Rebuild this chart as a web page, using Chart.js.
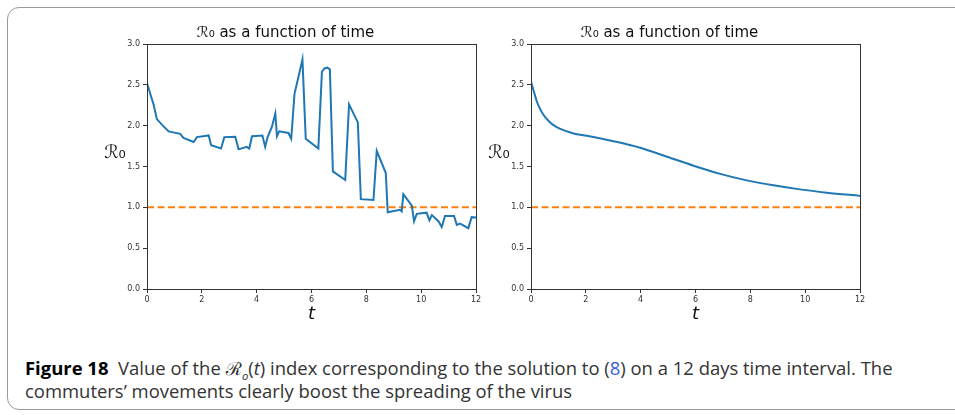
<!DOCTYPE html>
<html lang="en">
<head>
  <meta charset="UTF-8" />
  <title>Figure 18 - R0 as a function of time</title>
  <script src="https://cdn.jsdelivr.net/npm/chart.js"></script>
  <style>
    body { margin: 0; width: 955px; height: 415px; overflow: hidden; background: #fff; }
    #frame {
      position: absolute; left: 7px; top: 7px; width: 990px; height: 403px;
      border: 1.5px solid #9a9a9a; border-radius: 12px; box-sizing: border-box;
    }
    .plot { position: absolute; top: 15px; width: 400px; height: 310px; }
    #caption {
      position: absolute; left: 25px; top: 357px; white-space: nowrap;
      font-family: "Open Sans", "Noto Sans", sans-serif;
      font-size: 18px; line-height: 23px; color: #333;
      transform-origin: 0 0;
    }
    #caption b { color: #000; }
    #caption sub { font-size: 11px; line-height: 0; }
    #caption .ref { color: #3b5bdb; }
  </style>
</head>
<body>
  <div id="frame"></div>
  <div class="plot" style="left:95px"><canvas id="leftChart" width="400" height="310"></canvas></div>
  <div class="plot" style="left:479px"><canvas id="rightChart" width="400" height="310"></canvas></div>
  <div id="caption">
    <div id="capLine1"><b>Figure 18</b>&nbsp; Value of the <i>ℛ<sub>o</sub></i>(<i>t</i>) index corresponding to the solution to (<span class="ref">8</span>) on a 12 days time interval. The</div>
    <div>commuters’ movements clearly boost the spreading of the virus</div>
  </div>

  <script>
    // left panel: with commuters' movements
    const leftT = [0, 0.24, 0.36, 0.55, 0.79, 1.21, 1.33, 1.70, 1.82, 2.25, 2.34, 2.70, 2.82, 3.22, 3.34, 3.64,
      3.73, 3.83, 4.21, 4.31, 4.40, 4.56, 4.68, 4.74, 4.82, 5.16, 5.26, 5.38, 5.67, 5.79, 6.25, 6.38, 6.47,
      6.58, 6.67, 6.78, 7.23, 7.37, 7.69, 7.80, 8.26, 8.38, 8.71, 8.78, 9.23, 9.29, 9.35, 9.66, 9.74, 9.84,
      10.20, 10.30, 10.39, 10.63, 10.75, 10.87, 11.20, 11.30, 11.42, 11.72, 11.84, 12.0];
    const leftR = [2.52, 2.26, 2.08, 2.01, 1.93, 1.90, 1.85, 1.80, 1.86, 1.88, 1.76, 1.72, 1.86, 1.865, 1.71, 1.74,
      1.72, 1.87, 1.88, 1.74, 1.86, 1.99, 2.15, 1.87, 1.93, 1.91, 1.84, 2.39, 2.81, 1.84, 1.72, 2.66, 2.70,
      2.71, 2.69, 1.44, 1.335, 2.26, 2.04, 1.10, 1.09, 1.69, 1.42, 0.94, 0.97, 0.95, 1.16, 1.02, 0.83, 0.92,
      0.935, 0.84, 0.905, 0.83, 0.76, 0.895, 0.895, 0.785, 0.80, 0.745, 0.88, 0.875];

    // right panel: smooth solution
    const rightT = [0, 0.12, 0.22, 0.34, 0.46, 0.58, 0.70, 0.85, 1.07, 1.55, 2.04, 3.01, 3.98, 4.96, 5.93, 6.90, 7.87, 8.84, 9.81, 10.79, 12.0];
    const rightR = [2.54, 2.40, 2.29, 2.20, 2.13, 2.08, 2.04, 2.00, 1.96, 1.905, 1.877, 1.81, 1.73, 1.62, 1.51, 1.41, 1.33, 1.27, 1.22, 1.18, 1.14];

    const thresholdT = [0, 12];
    const thresholdR = [1, 1];

    const xTicks = [0, 2, 4, 6, 8, 10, 12];
    const yTicks = [0, 0.5, 1.0, 1.5, 2.0, 2.5, 3.0];
    const titleText = 'ℛ₀ as a function of time';

    const pts = (xs, ys) => xs.map((x, i) => ({ x, y: ys[i] }));

    // frame + axis labels drawn like matplotlib
    const mplDecor = {
      id: 'mplDecor',
      afterDraw(chart) {
        const { ctx, chartArea: a } = chart;
        ctx.save();
        ctx.strokeStyle = '#333';
        ctx.lineWidth = 1;
        ctx.strokeRect(Math.round(a.left) + 0.5, Math.round(a.top) + 0.5,
          Math.round(a.right - a.left), Math.round(a.bottom - a.top));
        ctx.fillStyle = '#111';
        ctx.textAlign = 'center';
        ctx.textBaseline = 'middle';
        ctx.font = 'italic 18px "DejaVu Sans"';
        ctx.fillText('t', (a.left + a.right) / 2, a.bottom + 25);
        ctx.font = '18px "DejaVu Sans"';
        ctx.fillText('ℛ₀', a.left - 32, (a.top + a.bottom) / 2 - 13);
        ctx.restore();
      }
    };

    function makeChart(id, xs, ys, smooth) {
      const ctx = document.getElementById(id).getContext('2d');
      return new Chart(ctx, {
        type: 'line',
        data: {
          datasets: [
            { data: pts(xs, ys), borderColor: '#1f77b4', borderWidth: 2, pointRadius: 0,
              tension: 0, cubicInterpolationMode: smooth ? 'monotone' : 'default' },
            { data: pts(thresholdT, thresholdR), borderColor: '#ff7f0e', borderWidth: 2,
              borderDash: [7, 3.5], pointRadius: 0 }
          ]
        },
        options: {
          responsive: false,
          animation: false,
          events: [],
          layout: { padding: { left: 0, right: 19, top: 0, bottom: 0 } },
          plugins: {
            legend: { display: false },
            tooltip: { enabled: false },
            title: {
              display: true, text: titleText, color: '#111',
              font: { family: 'DejaVu Sans', size: 15, weight: 'normal', lineHeight: 1.2 },
              padding: { top: 9, bottom: 2 }
            }
          },
          scales: {
            x: {
              type: 'linear', min: 0, max: 12,
              afterBuildTicks: s => { s.ticks = xTicks.map(v => ({ value: v })); },
              afterFit: s => { s.height = 36; },
              grid: { display: true, drawOnChartArea: false, drawTicks: true, tickLength: 4, color: '#333' },
              border: { display: true, color: '#333' },
              ticks: { color: '#333', font: { family: 'DejaVu Sans', size: 8 }, padding: 2, maxRotation: 0,
                callback: v => String(v) }
            },
            y: {
              min: 0, max: 3,
              afterBuildTicks: s => { s.ticks = yTicks.map(v => ({ value: v })); },
              afterFit: s => { s.width = 52; },
              grid: { display: true, drawOnChartArea: false, drawTicks: true, tickLength: 4, color: '#333' },
              border: { display: true, color: '#333' },
              ticks: { color: '#333', font: { family: 'DejaVu Sans', size: 8 }, padding: 3,
                callback: v => v.toFixed(1) }
            }
          }
        },
        plugins: [mplDecor]
      });
    }

    makeChart('leftChart', leftT, leftR, false);
    makeChart('rightChart', rightT, rightR, true);

    // squeeze the caption to the narrow journal face width
    const cap = document.getElementById('caption');
    const w = document.getElementById('capLine1').scrollWidth;
    cap.style.transform = 'scaleX(' + (868 / w) + ')';
  </script>
</body>
</html>
